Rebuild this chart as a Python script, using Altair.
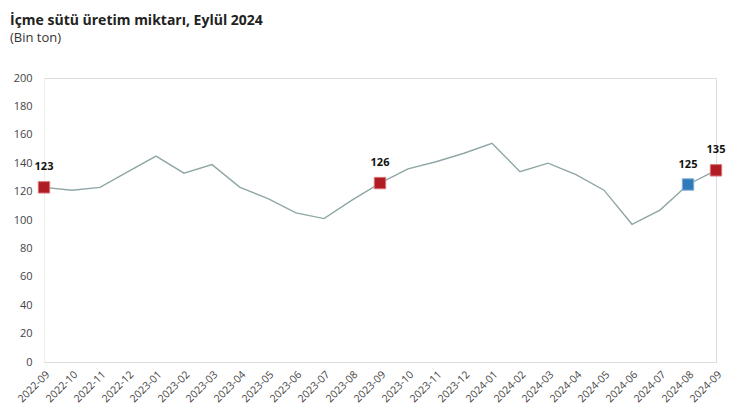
import altair as alt
import pandas as pd

months = ["2022-09","2022-10","2022-11","2022-12","2023-01","2023-02","2023-03","2023-04",
          "2023-05","2023-06","2023-07","2023-08","2023-09","2023-10","2023-11","2023-12",
          "2024-01","2024-02","2024-03","2024-04","2024-05","2024-06","2024-07","2024-08","2024-09"]
values = [123,121,123,134,145,133,139,123,115,105,101,114,126,136,141,147,154,134,140,132,121,97,107,125,135]

hl_months = ["2022-09","2023-09","2024-08","2024-09"]
hl_values = [123,126,125,135]
hl_kind = ["red","red","blue","red"]

df = pd.DataFrame({"month": months, "value": values})
hl = pd.DataFrame({"month": hl_months, "value": hl_values, "kind": hl_kind})

FONT = "Open Sans"

x = alt.X("month:N", sort=months, title=None,
          scale=alt.Scale(type="point", padding=0),
          axis=alt.Axis(labelAngle=-45, labelAlign="right", labelBaseline="top",
                        labelFontSize=10.5, labelColor="#444444", labelFont=FONT,
                        ticks=False, domainColor="#dcdcdc", labelPadding=7,
                        labelOverlap=False))
y = alt.Y("value:Q", title=None,
          scale=alt.Scale(domain=[0, 200], nice=False),
          axis=alt.Axis(values=list(range(0, 201, 20)), grid=False, ticks=False,
                        domainColor="#eeeeee", labelFontSize=11, labelColor="#444444",
                        labelFont=FONT, labelPadding=12, labelOverlap=False))

line = alt.Chart(df).mark_line(color="#8fa6a6", strokeWidth=1.4).encode(x=x, y=y)

pts = alt.Chart(hl).mark_square(size=130, opacity=1, strokeWidth=1).encode(
    x=x,
    y=y,
    color=alt.Color("kind:N", scale=alt.Scale(domain=["red", "blue"], range=["#b01c24", "#2f7ab8"]), legend=None),
    stroke=alt.Stroke("kind:N", scale=alt.Scale(domain=["red", "blue"], range=["#d9757a", "#7fb0d8"]), legend=None),
)

labels = alt.Chart(hl).mark_text(dy=-20, fontWeight="bold", fontSize=11, color="#111111", font=FONT).encode(
    x=x, y=y, text="value:Q")

chart = alt.layer(line, pts, labels).properties(
    width=672, height=284,
    autosize=alt.AutoSizeParams(type="none"),
    padding={"left": 36, "top": 70, "right": 16, "bottom": 50},
    title=alt.TitleParams("İçme sütü üretim miktarı, Eylül 2024", subtitle="(Bin ton)",
                          anchor="start", frame="group", dx=-34, offset=27,
                          font=FONT, fontSize=14, fontWeight="bold", color="#222222",
                          subtitleFont=FONT, subtitleFontSize=13, subtitleColor="#333333",
                          subtitlePadding=4),
).configure_view(stroke=None).configure(background="white").configure_axis(labelOverlap=False)

chart.save("out.html", embed_options={"renderer": "svg", "actions": False})
